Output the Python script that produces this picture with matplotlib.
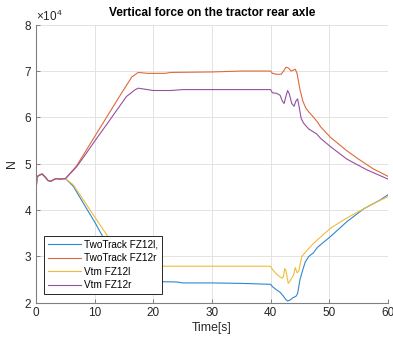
import matplotlib
matplotlib.use("Agg")
import matplotlib.pyplot as plt
from matplotlib.ticker import ScalarFormatter

plt.rcParams['font.family'] = ['Liberation Sans', 'DejaVu Sans']
plt.rcParams['mathtext.fontset'] = 'custom'
plt.rcParams['mathtext.rm'] = 'Liberation Sans'

# common start transient (x1e4 N)
t_start = [0, 0.15, 0.5, 1.0, 1.5, 2.0, 2.5, 3.0, 3.5, 4.0, 5.0]
v_start = [4.45, 4.72, 4.75, 4.78, 4.72, 4.64, 4.62, 4.66, 4.68, 4.67, 4.68]

t_tt_r = [6.87, 8.3, 10, 12, 14.3, 16.3, 17.4, 19, 22, 23, 30, 35, 40, 40.3, 41, 41.8, 42.2, 42.6, 43, 43.5,
          43.9, 44.2, 44.5, 45, 45.5, 46, 46.5, 47, 48, 48.5, 50.2, 53, 55, 57.5, 60]
v_tt_r = [4.95, 5.24, 5.59, 6.0, 6.47, 6.87, 6.97, 6.95, 6.95, 6.97, 6.98, 7.0, 7.0, 6.95, 6.93, 6.93, 7.0, 7.08, 7.07, 7.0,
          7.02, 7.04, 6.95, 6.6, 6.35, 6.2, 6.12, 6.05, 5.9, 5.8, 5.57, 5.28, 5.1, 4.89, 4.73]

t_vtm_r = [6.87, 8.3, 10, 12.6, 15.4, 16.8, 17.4, 20, 23, 25, 40, 40.3, 41, 41.6, 42.0, 42.3, 42.6, 42.9, 43.2, 43.6, 44,
           44.3, 44.6, 44.9, 45.2, 45.6, 46, 46.5, 47, 47.9, 48.5, 50.2, 53, 56.4, 60]
v_vtm_r = [4.93, 5.18, 5.49, 5.95, 6.45, 6.59, 6.63, 6.58, 6.58, 6.6, 6.6, 6.53, 6.52, 6.48, 6.35, 6.3, 6.45, 6.58, 6.5, 6.3, 6.24,
           6.35, 6.4, 6.2, 5.98, 5.88, 5.82, 5.75, 5.71, 5.64, 5.55, 5.37, 5.1, 4.87, 4.67]

t_tt_l = [6.3, 8, 10, 11.4, 13, 14.5, 15.5, 16.5, 20, 24, 25, 30, 35, 40, 40.3, 41, 41.6, 42.2, 42.6, 42.9,
          43.3, 43.8, 44.3, 44.6, 45, 45.5, 45.9, 46.5, 47.3, 48, 50.2, 53, 55.9, 58.7, 60]
v_tt_l = [4.52, 4.16, 3.74, 3.42, 3.05, 2.68, 2.52, 2.47, 2.46, 2.45, 2.43, 2.43, 2.42, 2.40, 2.35, 2.28, 2.23, 2.14, 2.07, 2.04,
          2.06, 2.11, 2.14, 2.2, 2.5, 2.72, 2.88, 3.0, 3.08, 3.2, 3.43, 3.75, 4.03, 4.22, 4.33]

t_vtm_l = [6.3, 8, 10, 12.3, 14, 15.5, 16.5, 17.2, 20, 21, 40, 40.3, 41, 41.6, 42.0, 42.2, 42.4, 42.6, 43.0, 43.3, 43.9,
           44.2, 44.5, 44.8, 45.3, 46.2, 47.3, 48, 50.2, 53, 55.9, 58, 60]
v_vtm_l = [4.55, 4.23, 3.85, 3.42, 3.1, 2.9, 2.84, 2.82, 2.82, 2.79, 2.79, 2.72, 2.62, 2.56, 2.53, 2.58, 2.74, 2.7, 2.42, 2.47, 2.6,
           2.76, 2.65, 2.68, 3.0, 3.13, 3.28, 3.36, 3.61, 3.83, 4.03, 4.17, 4.29]

labels = ['TwoTrack FZ12l,', 'TwoTrack FZ12r', 'Vtm FZ12l', 'Vtm FZ12r']
colors = ['#2f86cf', '#e2683a', '#f0bb3a', '#9350a0']

series = [(t_tt_l, v_tt_l), (t_tt_r, v_tt_r), (t_vtm_l, v_vtm_l), (t_vtm_r, v_vtm_r)]

fig = plt.figure(figsize=(3.93, 3.38), dpi=100)
ax = fig.add_axes([0.092, 0.104, 0.895, 0.823])

for (t, v), lab, c in zip(series, labels, colors):
    tt = t_start + t
    vv = [x * 1e4 for x in v_start + v]
    ax.plot(tt, vv, color=c, lw=0.8, label=lab)

ax.set_xlim(0, 60)
ax.set_ylim(2e4, 8e4)
ax.set_xticks([0, 10, 20, 30, 40, 50, 60])
ax.set_yticks([2e4, 3e4, 4e4, 5e4, 6e4, 7e4, 8e4])
fmt = ScalarFormatter(useMathText=True)
fmt.set_powerlimits((0, 0))
ax.yaxis.set_major_formatter(fmt)
ax.yaxis.get_offset_text().set_fontsize(8.5)
ax.yaxis.get_offset_text().set_color('#404040')

ax.grid(True, color='#e3e3e3', lw=0.7)
ax.set_axisbelow(True)
for s in ['top', 'right']:
    ax.spines[s].set_visible(False)
for s in ['left', 'bottom']:
    ax.spines[s].set_color('#808080')
    ax.spines[s].set_linewidth(0.8)
ax.tick_params(direction='in', length=3, width=0.7, color='#808080', labelsize=8.5,
               labelcolor='#262626', pad=3)

ax.set_title('Vertical force on the tractor rear axle', fontsize=8.6, fontweight='bold', pad=6)
ax.set_xlabel('Time[s]', fontsize=8.8, color='#262626', labelpad=2)
ax.set_ylabel('N', fontsize=8.8, color='#262626', labelpad=4)

leg = ax.legend(loc='lower left', bbox_to_anchor=(0.023, 0.032), fontsize=7.2, frameon=True,
                fancybox=False, edgecolor='#262626', framealpha=1, borderpad=0.35,
                handlelength=3.3, labelspacing=0.36, handletextpad=0.35, borderaxespad=0)
leg.get_frame().set_linewidth(0.7)

fig.savefig('out.png', dpi=100)
